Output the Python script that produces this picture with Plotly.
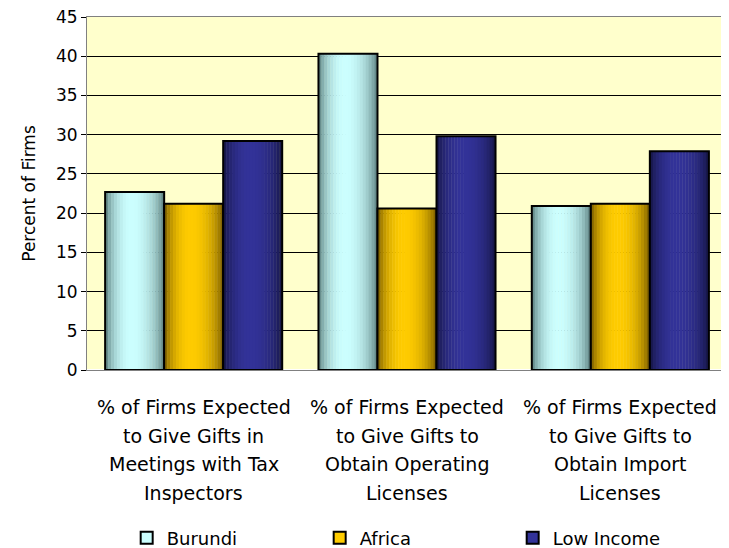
import plotly.graph_objects as go

# ------------ Data ------------
categories = ["Tax Inspectors", "Operating Licenses", "Import Licenses"]
category_labels = [
    ["% of Firms Expected", "to Give Gifts in", "Meetings with Tax", "Inspectors"],
    ["% of Firms Expected", "to Give Gifts to", "Obtain Operating", "Licenses"],
    ["% of Firms Expected", "to Give Gifts to", "Obtain Import", "Licenses"],
]
burundi = [22.7, 40.3, 20.9]
africa = [21.2, 20.6, 21.2]
low_income = [29.2, 29.8, 27.9]

# name, values, edge colour, centre colour
series = [
    ("Burundi", burundi, (78, 112, 112), (204, 255, 255)),
    ("Africa", africa, (105, 78, 0), (255, 204, 0)),
    ("Low Income", low_income, (18, 18, 58), (51, 51, 153)),
]

BARGAP = 0.17
BW = (1 - BARGAP) / len(series)
STRIPS = 20


def shade(edge, centre, t):
    # cylinder-like shading, brightest a bit left of centre
    peak = 0.45
    d = (t - peak) / peak if t < peak else (t - peak) / (1 - peak)
    b = max(0.0, 1 - d * d) ** 0.7
    r, g, bl = (int(edge[i] + (centre[i] - edge[i]) * b) for i in range(3))
    return f"rgb({r},{g},{bl})"


# ------------ Plot ------------
fig = go.Figure()
for i, (name, vals, edge, centre) in enumerate(series):
    start = -(1 - BARGAP) / 2 + i * BW
    sw = BW / STRIPS
    for k in range(STRIPS):
        t = (k + 0.5) / STRIPS
        fig.add_trace(go.Bar(
            x=categories, y=vals, offset=start + k * sw, width=sw * 1.15,
            marker=dict(color=shade(edge, centre, t), line=dict(width=0)),
            showlegend=False, hoverinfo="skip",
        ))
    # outline
    fig.add_trace(go.Bar(
        x=categories, y=vals, offset=start, width=BW, name=name,
        marker=dict(color="rgba(0,0,0,0)", line=dict(color="#000000", width=2)),
        showlegend=False,
    ))
    # legend entry
    fig.add_trace(go.Bar(
        x=categories, y=[None] * len(categories), name=name,
        marker=dict(color=f"rgb{centre}", line=dict(color="#000000", width=2)),
    ))

# category labels with wide line spacing
for cat, lines in zip(categories, category_labels):
    for j, line in enumerate(lines):
        fig.add_annotation(
            x=cat, y=0, xref="x", yref="paper", text=line, showarrow=False,
            yanchor="middle", yshift=-37 - j * 28.7, font=dict(size=19),
        )

fig.update_layout(
    width=721, height=540,
    barmode="overlay", bargap=BARGAP,
    plot_bgcolor="#FFFFCC", paper_bgcolor="#FFFFFF",
    font=dict(family="DejaVu Sans", size=18, color="#000000"),
    margin=dict(l=79, r=2, t=9, b=178, autoexpand=False),
    legend=dict(orientation="h", x=0.062, xanchor="left", y=-0.476, yanchor="middle",
                font=dict(size=18), entrywidth=148, itemwidth=30),
)
fig.update_yaxes(
    range=[0, 45], dtick=5, showgrid=True, gridcolor="#000000", gridwidth=1,
    showline=True, linecolor="#808080", mirror=True, ticks="outside", ticklen=5,
    tickcolor="#000000", automargin=False, tickfont=dict(size=17),
    ticklabeloverflow="allow",
    title=dict(text="Percent of Firms", font=dict(size=17), standoff=16),
)
fig.update_xaxes(showline=True, linecolor="#808080", mirror=True,
                 showticklabels=False, automargin=False)

fig.write_html("out.html")
